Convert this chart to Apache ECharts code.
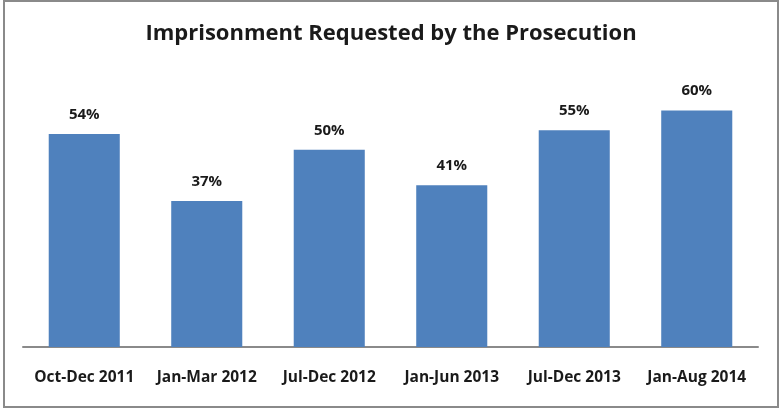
<!DOCTYPE html>
<html>
<head>
<meta charset="utf-8">
<script src="https://cdn.jsdelivr.net/npm/echarts@6/dist/echarts.min.js"></script>
<style>
  html, body { margin: 0; padding: 0; background: #fff; }
  #chart { width: 782px; height: 409px; }
</style>
</head>
<body>
<div id="chart"></div>
<script>
// Share of cases where the prosecution requested imprisonment, by period
const categories = ['Oct-Dec 2011', 'Jan-Mar 2012', 'Jul-Dec 2012', 'Jan-Jun 2013', 'Jul-Dec 2013', 'Jan-Aug 2014'];
const values = [54, 37, 50, 41, 55, 60];

const chart = echarts.init(document.getElementById('chart'));
const font = 'Open Sans';

chart.setOption({
  animation: false,
  title: {
    text: 'Imprisonment Requested by the Prosecution',
    left: 'center',
    top: 18,
    textStyle: { fontFamily: font, fontWeight: 'bold', fontSize: 22, color: '#1a1a1a' }
  },
  graphic: [{
    type: 'rect',
    shape: { x: 4, y: 1, width: 774, height: 406 },
    style: { fill: 'none', stroke: '#8a8a8a', lineWidth: 2 },
    silent: true
  }],
  grid: { left: 23, right: 24, top: 71, bottom: 62 },
  xAxis: {
    type: 'category',
    data: categories,
    axisLine: { lineStyle: { color: '#8a8a8a', width: 2 } },
    axisTick: { show: false },
    axisLabel: { fontFamily: font, fontWeight: 'bold', fontSize: 15.5, color: '#1a1a1a', margin: 23, interval: 0 }
  },
  yAxis: {
    type: 'value',
    min: 0,
    max: 70,
    show: false,
    splitLine: { show: false }
  },
  series: [{
    type: 'bar',
    data: values,
    barWidth: '58%',
    itemStyle: { color: '#4f81bd' },
    label: {
      show: true,
      position: 'top',
      distance: 12,
      formatter: '{c}%',
      fontFamily: font,
      fontWeight: 'bold',
      fontSize: 15,
      color: '#1a1a1a'
    }
  }]
});
</script>
</body>
</html>
